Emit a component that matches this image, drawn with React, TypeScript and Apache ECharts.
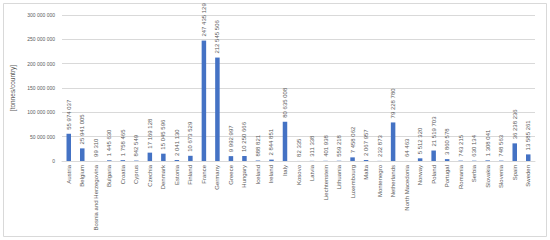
import React, { useEffect, useRef } from "react";
import * as echarts from "echarts";

const countries = [
  "Austria", "Belgium", "Bosnia and Herzegovina", "Bulgaria", "Croatia", "Cyprus",
  "Czechia", "Denmark", "Estonia", "Finland", "France", "Germany", "Greece",
  "Hungary", "Iceland", "Ireland", "Italy", "Kosovo", "Latvia", "Liechtenstein",
  "Lithuania", "Luxembourg", "Malta", "Montenegro", "Netherlands", "North Macedonia",
  "Norway", "Poland", "Portugal", "Romania", "Serbia", "Slovakia", "Slovenia",
  "Spain", "Sweden",
];

const tonnes = [
  55974037, 25941005, 99310, 1445630, 1758465, 842549,
  17169128, 15045596, 2041130, 10673529, 247435129, 212545506, 9992997,
  10250666, 888821, 2844851, 80635008, 82335, 311338, 401938,
  559218, 7458062, 2067957, 232873, 79228780, 64463,
  5512320, 21519703, 3860578, 743215, 630134, 1308041, 748563,
  36238236, 13585261,
];

const yMin = 0;
const yMax = 300000000;
const yStep = 50000000;
const yName = "[tonnes/country]";

const fmt = (v: number) => String(Math.round(v)).replace(/\B(?=(\d{3})+(?!\d))/g, " ");

const FONT = "Liberation Sans";
const TEXT = "#595959";

export default function App() {
  const ref = useRef<HTMLDivElement>(null);
  useEffect(() => {
    if (!ref.current) return;
    const chart = echarts.init(ref.current, undefined, { renderer: "svg" });
    chart.setOption({
      animation: false,
      backgroundColor: "#ffffff",
      graphic: [
        {
          type: "rect",
          shape: { x: 3.5, y: 3.5, width: 543, height: 233 },
          style: { fill: "none", stroke: "#d9d9d9", lineWidth: 1 },
          silent: true,
        },
      ],
      grid: { left: 62, right: 15, top: 15, bottom: 79, containLabel: false },
      xAxis: {
        type: "category",
        data: countries,
        axisTick: { show: false },
        axisLine: { lineStyle: { color: "#d9d9d9" } },
        axisLabel: {
          interval: 0,
          rotate: 90,
          hideOverlap: false,
          fontSize: 6,
          fontFamily: FONT,
          color: TEXT,
          margin: 4,
        },
      },
      yAxis: {
        type: "value",
        min: yMin,
        max: yMax,
        interval: yStep,
        name: yName,
        nameLocation: "middle",
        nameGap: 36,
        nameTextStyle: { fontSize: 6.5, fontFamily: FONT, color: TEXT },
        axisLine: { show: false },
        axisTick: { show: false },
        splitLine: { lineStyle: { color: "#d9d9d9", width: 1 } },
        axisLabel: {
          fontSize: 5,
          fontFamily: FONT,
          color: TEXT,
          margin: 7,
          formatter: (v: number) => fmt(v),
        },
      },
      series: [
        {
          type: "bar",
          data: tonnes,
          barWidth: 4.5,
          itemStyle: { color: "#4472C4" },
          labelLayout: { hideOverlap: false },
          label: {
            show: true,
            position: "top",
            rotate: 90,
            align: "left",
            verticalAlign: "middle",
            distance: 4,
            fontSize: 6,
            fontFamily: FONT,
            color: TEXT,
            formatter: (p: any) => fmt(p.value),
          },
        },
      ],
    });
    return () => chart.dispose();
  }, []);
  return (
    <div
      ref={ref}
      style={{ position: "fixed", left: 0, top: 0, width: 550, height: 240 }}
    />
  );
}
